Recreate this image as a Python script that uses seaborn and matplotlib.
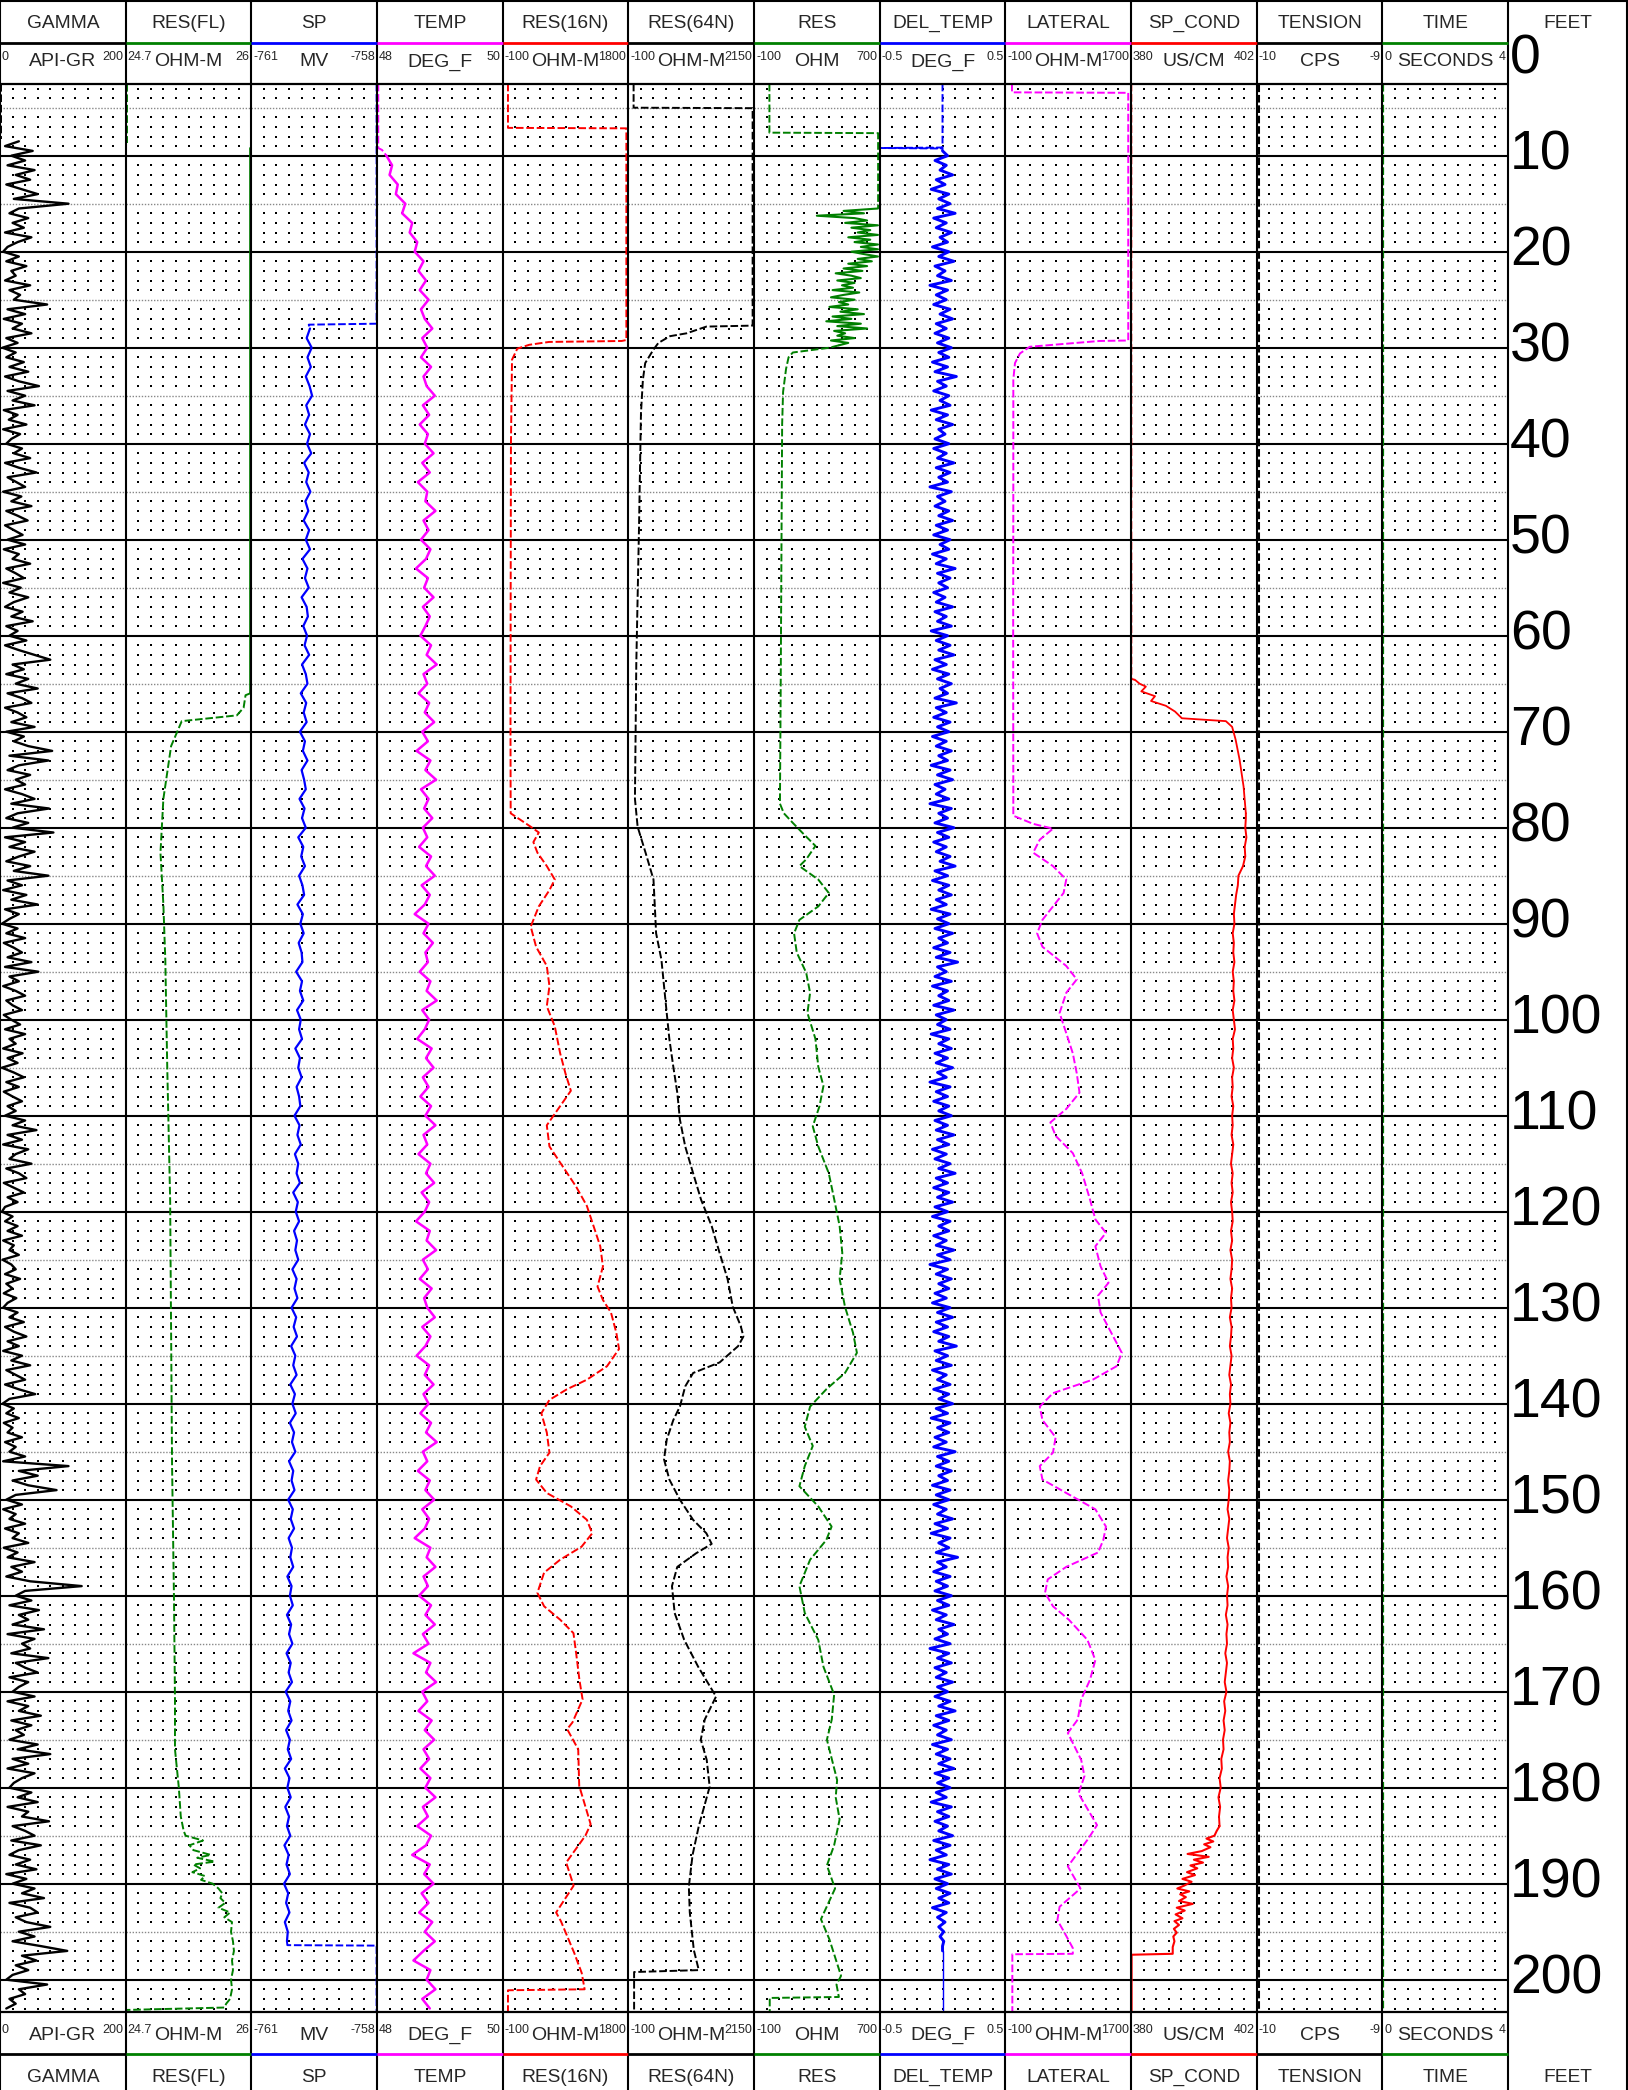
import numpy as np
import pandas as pd
import matplotlib
matplotlib.use("Agg")
import matplotlib.pyplot as plt
import seaborn as sns

# ------------------------------------------------------------------ data
track_names = ["GAMMA", "RES(FL)", "SP", "TEMP", "RES(16N)", "RES(64N)", "RES",
               "DEL_TEMP", "LATERAL", "SP_COND", "TENSION", "TIME"]
track_units = ["API-GR", "OHM-M", "MV", "DEG_F", "OHM-M", "OHM-M", "OHM",
               "DEG_F", "OHM-M", "US/CM", "CPS", "SECONDS"]
scale_min = [0, 24.7, -761, 48, -100, -100, -100, -0.5, -100, 380, -10, 0]
scale_max = [200, 26, -758, 50, 1800, 2150, 700, 0.5, 1700, 402, -9, 4]
min_labels = ["0", "24.7", "-761", "48", "-100", "-100", "-100", "-0.5", "-100", "380", "-10", "0"]
max_labels = ["200", "26", "-758", "50", "1800", "2150", "700", "0.5", "1700", "402", "-9", "4"]
track_colors = ["black", "#008000", "#0000FF", "#FF00FF", "#FF0000", "black",
                "#008000", "#0000FF", "#FF00FF", "#FF0000", "black", "#008000"]
depth_ticks = list(range(0, 201, 10))

# GAMMA
gamma_top_depth = [2.5, 8.3]
gamma_top_val = [0.8, 0.8]
gamma_depth = np.arange(8.5, 203.01, 0.5)
gamma_val = [
    30, 8, 52,
    18, 40, 12, 55, 25, 48, 10, 35, 60, 22, 109, 30, 15, 45, 20, 38, 8, 50, 28, 12,
    5, 30, 10, 42, 18, 25, 8, 48, 15, 32, 22, 75, 12, 40, 6, 35, 20, 50, 10, 28,
    4, 25, 10, 38, 15, 45, 8, 30, 62, 12, 40, 20, 55, 6, 28, 14, 42, 5, 32, 18,
    10, 35, 22, 48, 8, 30, 58, 12, 26, 40, 5, 34, 18, 50, 10, 28, 44, 8, 22, 36,
    12, 40, 6, 30, 20, 48, 10, 25, 38, 5, 33, 15, 45, 22, 8, 36, 18, 52, 10, 28,
    15, 42, 8, 30, 55, 80, 20, 38, 10, 45, 25, 60, 12, 35, 50, 8, 28, 42, 18, 55,
    10, 38, 22, 45, 83, 15, 77, 30, 12, 48, 25, 40, 8, 35, 55, 18, 78, 28, 10, 45,
    20, 85, 8, 40, 15, 55, 30, 10, 48, 22, 77, 12, 35, 5, 42, 18, 60, 8, 30, 15,
    3, 28, 10, 40, 6, 22, 35, 12, 50, 8, 61, 15, 30, 5, 25, 40, 10, 20, 35, 6,
    18, 32, 8, 40, 15, 25, 5, 36, 12, 28, 3, 22, 38, 10, 30, 6, 20, 35, 12, 25,
    8, 40, 20, 58, 12, 35, 5, 45, 25, 15, 50, 10, 30, 42, 6, 22, 38, 12, 28, 8,
    3, 20, 8, 28, 12, 35, 5, 22, 15, 30, 4, 18, 25, 8, 32, 10, 20, 6, 26, 12,
    5, 28, 15, 38, 8, 22, 42, 12, 30, 5, 35, 18, 48, 10, 25, 40, 8, 30, 56, 15,
    4, 22, 10, 30, 6, 20, 12, 35, 8, 25, 15, 40, 5, 109, 30, 60, 20, 45, 90, 25,
    10, 35, 5, 25, 15, 40, 8, 30, 20, 45, 6, 28, 12, 55, 18, 35, 10, 48, 130, 40,
    25, 50, 15, 62, 30, 45, 20, 70, 12, 55, 35, 48, 18, 77, 25, 40, 60, 15, 45, 30,
    20, 55, 12, 45, 30, 65, 18, 50, 25, 38, 15, 60, 28, 80, 20, 45, 12, 55, 35, 22,
    15, 50, 28, 60, 12, 45, 35, 78, 20, 40, 55, 18, 65, 30, 15, 48, 25, 58, 10, 42,
    20, 55, 35, 70, 15, 48, 60, 25, 42, 80, 30, 55, 20, 65, 107, 35, 58, 25, 45, 20,
    10, 75, 30, 40, 15, 25, 10,
]

# RES(FL)
resfl_top_depth = [2.5, 8.7]
resfl_top_val = [24.715, 24.715]
resfl_depth = [9.2, 66.0, 66.2, 67.5, 68.3, 68.9, 71.5, 77, 82.6, 88,
               93.75, 104.9, 118.75, 132.6, 146.5, 160.4, 170.8, 176, 180, 183,
               184.5, 185, 185.5, 186, 186.5, 187, 187.3, 187.7, 188, 188.4,
               188.8, 189.2, 189.6, 190, 190.5, 191, 191.5, 192, 192.5, 193,
               193.5, 194, 195, 196, 197, 198, 199, 200, 201, 202,
               202.5, 202.9, 203.15]
resfl_val = [25.99, 25.99, 25.94, 25.92, 25.85, 25.28, 25.17, 25.09, 25.06, 25.09,
             25.11, 25.13, 25.16, 25.17, 25.18, 25.20, 25.21, 25.21, 25.25, 25.27,
             25.30, 25.32, 25.50, 25.36, 25.40, 25.58, 25.44, 25.62, 25.40, 25.47,
             25.39, 25.52, 25.48, 25.60, 25.66, 25.70, 25.68, 25.73, 25.66, 25.78,
             25.72, 25.80, 25.79, 25.81, 25.82, 25.80, 25.81, 25.79, 25.80, 25.78,
             25.74, 25.72, 24.71]

# SP
sp_top_depth = [2.5, 27.5, 27.6, 28.0]
sp_top_val = [-758.01, -758.01, -759.63, -759.60]
sp_depth = np.arange(28, 197, 1.0)
sp_val = [
    -759.60, -759.68, -759.56, -759.66, -759.58, -759.70, -759.61, -759.55, -759.69, -759.62,
    -759.72, -759.60, -759.67, -759.57, -759.74, -759.63, -759.69, -759.59, -759.71, -759.64,
    -759.75, -759.62, -759.70, -759.60, -759.78, -759.66, -759.72, -759.63, -759.80, -759.68,
    -759.65, -759.76, -759.67, -759.73, -759.62, -759.79, -759.70, -759.66, -759.82, -759.69,
    -759.75, -759.68, -759.84, -759.72, -759.77, -759.66, -759.80, -759.74, -759.70, -759.85,
    -759.73, -759.79, -759.70, -759.88, -759.76, -759.81, -759.72, -759.86, -759.78, -759.74,
    -759.90, -759.77, -759.83, -759.75, -759.87, -759.80, -759.78, -759.93, -759.79, -759.84,
    -759.76, -759.91, -759.82, -759.86, -759.79, -759.95, -759.84, -759.88, -759.80, -759.92,
    -759.86, -759.83, -759.97, -759.85, -759.90, -759.82, -759.96, -759.88, -759.92, -759.84,
    -760.00, -759.89, -759.94, -759.86, -759.98, -759.91, -759.95, -759.88, -760.02, -759.92,
    -759.97, -759.90, -760.04, -759.93, -759.99, -759.91, -760.05, -759.95, -760.00, -759.92,
    -760.07, -759.96, -760.02, -759.94, -760.08, -759.98, -760.03, -759.95, -760.10, -760.00,
    -760.04, -759.97, -760.12, -760.01, -760.06, -759.98, -760.11, -760.03, -760.07, -760.00,
    -760.14, -760.04, -760.08, -760.01, -760.15, -760.05, -760.10, -760.02, -760.16, -760.06,
    -760.11, -760.03, -760.18, -760.07, -760.12, -760.04, -760.17, -760.08, -760.13, -760.05,
    -760.20, -760.09, -760.14, -760.06, -760.19, -760.10, -760.15, -760.07, -760.21, -760.11,
    -760.16, -760.08, -760.22, -760.12, -760.17, -760.09, -760.20, -760.13, -760.15,
]
sp_bot_depth = [196.0, 196.4, 196.45, 203.3]
sp_bot_val = [-760.15, -760.14, -758.01, -758.01]

# TEMP
temp_top_depth = [2.5, 9.2, 9.4, 10.0]
temp_top_val = [48.02, 48.02, 48.08, 48.15]
temp_depth = np.arange(10, 204, 1.0)
temp_val = [
    48.15, 48.24, 48.20, 48.33, 48.30, 48.45, 48.40, 48.56, 48.52, 48.64,
    48.60, 48.74, 48.66, 48.78, 48.68, 48.82, 48.70, 48.76, 48.88, 48.72,
    48.80, 48.70, 48.86, 48.74, 48.79, 48.92, 48.73, 48.83, 48.68, 48.81,
    48.76, 48.90, 48.72, 48.84, 48.65, 48.80, 48.77, 48.93, 48.74, 48.82,
    48.70, 48.85, 48.78, 48.62, 48.81, 48.75, 48.90, 48.73, 48.84, 48.77,
    48.69, 48.86, 48.79, 48.95, 48.74, 48.80, 48.66, 48.83, 48.76, 48.91,
    48.72, 48.81, 48.63, 48.85, 48.77, 48.94, 48.70, 48.82, 48.75, 48.88,
    48.73, 48.80, 48.67, 48.86, 48.78, 48.92, 48.71, 48.84, 48.76, 48.60,
    48.82, 48.74, 48.89, 48.77, 48.81, 48.68, 48.85, 48.79, 48.95, 48.72,
    48.83, 48.76, 48.64, 48.87, 48.78, 48.90, 48.73, 48.82, 48.69, 48.86,
    48.77, 48.93, 48.74, 48.80, 48.66, 48.85, 48.78, 48.91, 48.71, 48.83,
    48.76, 48.62, 48.84, 48.79, 48.94, 48.73, 48.81, 48.68, 48.87, 48.75,
    48.80, 48.92, 48.72, 48.85, 48.77, 48.63, 48.83, 48.76, 48.90, 48.74,
    48.82, 48.69, 48.86, 48.78, 48.95, 48.73, 48.80, 48.65, 48.84, 48.77,
    48.91, 48.72, 48.83, 48.76, 48.60, 48.85, 48.79, 48.93, 48.74, 48.81,
    48.67, 48.86, 48.77, 48.92, 48.73, 48.82, 48.58, 48.85, 48.78, 48.94,
    48.72, 48.80, 48.66, 48.87, 48.76, 48.91, 48.74, 48.83, 48.69, 48.85,
    48.77, 48.93, 48.73, 48.81, 48.64, 48.86, 48.78, 48.56, 48.84, 48.75,
    48.90, 48.71, 48.82, 48.67, 48.88, 48.76, 48.92, 48.74, 48.58, 48.85,
    48.79, 48.93, 48.72, 48.84,
]

# RES(16N)
res16_depth = [2.5, 7.1, 7.15, 29.2, 29.3, 29.4, 29.7, 30.1, 31.25, 40,
               55, 70, 78.5, 79.9, 80.5, 81.5, 82.6, 84, 85.4, 86.5,
               88.2, 90.3, 92.4, 94.4, 96.5, 98.6, 100.7, 103.5, 105.6, 107.4,
               109, 111, 113.2, 115.3, 117.4, 119.4, 121.5, 123.6, 125.7, 127.8,
               129.2, 130.5, 132.6, 134.3, 136.1, 137.5, 138.5, 139.6, 141, 143,
               145.1, 146.5, 147.9, 149.3, 150.7, 152.1, 153.5, 154.9, 156.25, 157.6,
               159.7, 161.1, 162.5, 163.9, 166, 168.75, 170.8, 173.2, 173.9, 176,
               179.8, 183.8, 185, 187.8, 190.2, 193, 193.9, 197.2, 199.3, 201,
               201.1, 203.3]
res16_val = [-20, -20, 1770, 1770, 1700, 600, 300, 121, 41, 25,
             21, 18, 21, 324, 446, 364, 425, 567, 688, 607,
             446, 324, 405, 567, 607, 567, 688, 769, 849, 931,
             769, 567, 607, 809, 1011, 1173, 1274, 1375, 1416, 1334,
             1416, 1537, 1618, 1659, 1477, 1173, 870, 607, 485, 567,
             607, 465, 405, 567, 931, 1173, 1254, 1092, 769, 526,
             425, 526, 769, 970, 1011, 1060, 1108, 955, 875, 1042,
             1057, 1230, 1150, 860, 973, 708, 780, 981, 1095, 1139,
             -20, -20]

# RES(64N)
res64_depth = [2.5, 5.0, 5.05, 27.7, 27.8, 28.5, 28.8, 29.5, 30.2, 31.6,
               33.3, 36.8, 49, 63, 77, 79.9, 82.6, 85.4, 88.2, 91,
               93.75, 96.5, 99.3, 102, 104.9, 107.6, 110.4, 113.2, 116, 118.75,
               121.5, 124.3, 127, 129.9, 131.9, 133, 134, 135.7, 136.8, 138.2,
               140.3, 141.7, 143.75, 145.8, 147.9, 150, 152.1, 153.5, 154.6, 155.6,
               157, 159, 161.8, 164.6, 167.4, 170.5, 172.9, 175, 177.1, 179.9,
               184, 187, 190.3, 193, 196.9, 199, 199.2, 203.3]
res64_val = [-6, -6, 2125, 2125, 1298, 943, 646, 438, 349, 202,
             161, 126, 90, 42, 18, 66, 208, 350, 374, 397,
             492, 539, 587, 634, 705, 776, 823, 918, 1060, 1202,
             1392, 1534, 1676, 1770, 1912, 1960, 1866, 1534, 1060, 918,
             823, 705, 587, 539, 634, 823, 1060, 1297, 1392, 1108,
             776, 681, 729, 900, 1150, 1470, 1268, 1197, 1303, 1356,
             1161, 1050, 983, 1000, 1072, 1161, 3, 3]

# RES
res_top_depth = [2.5, 7.6, 7.65, 15.4, 15.5]
res_top_val = [-2, -2, 690, 690, 689]
res_noise_depth = np.arange(15.5, 29.76, 0.25)
res_noise_val = [689, 470, 600, 300, 540,
                 620, 480, 689, 520, 640, 560, 689, 500,
                 640, 540, 689, 580, 689, 520,
                 600, 689, 560, 650, 500, 620,
                 470, 590, 420, 520, 580, 430, 540, 460,
                 530, 400, 570, 470, 390, 540, 440, 500, 380, 560, 450,
                 600, 400, 520, 360, 580, 430, 620, 410, 480,
                 430, 540, 390, 500, 440]
res_depth = [29.75, 30.0, 30.5, 31.0, 32.2, 34.6, 38, 50, 65, 77.5, 78.5,
             79.5, 80.5, 81.9, 83.3, 84, 85.4, 86.8, 88.2, 89.6, 91,
             93, 95.1, 97.2, 99.3, 102, 104.9, 106.9, 109, 111.1, 113.2,
             116, 118.75, 121.5, 124.3, 127, 129.9, 132.6, 134.7, 136.8, 138.5,
             140.3, 142.4, 144.4, 146.5, 148.6, 150.7, 152.8, 154.2, 156.25, 159,
             161.8, 164.6, 167.4, 170.3, 172.9, 175, 179.2, 181, 183.3, 186,
             188.1, 190.5, 193.7, 195.8, 199.6, 200.5, 201.8, 201.9, 203.3]
res_val = [440, 381, 147, 120, 104, 85, 79, 75, 70, 65, 90,
           147, 206, 291, 232, 189, 309, 376, 309, 189, 155,
           172, 232, 257, 240, 291, 309, 342, 317, 274, 309,
           376, 411, 445, 462, 445, 479, 530, 555, 479, 360,
           257, 223, 274, 223, 189, 309, 394, 360, 257, 189,
           223, 309, 342, 410, 395, 364, 429, 420, 445, 410,
           364, 416, 326, 380, 454, 425, 440, 0, 0]

# DEL_TEMP
dtemp_top_depth = [2.5, 9.15, 9.2, 9.25, 9.5]
dtemp_top_val = [0.0, 0.0, -0.5, 0.0, 0.0]
dtemp_depth = np.arange(9.5, 197.01, 0.5)
dtemp_val = [
    0.00,
    0.04, -0.06, 0.03, -0.02, 0.08, -0.05, 0.02, -0.09, 0.05, -0.03, 0.06, -0.04, 0.10, -0.07, 0.03, -0.05, 0.07, -0.02, 0.04, -0.08,
    0.05, -0.03, 0.09, -0.06, 0.02, -0.04, 0.07, -0.10, 0.04, -0.05, 0.03, -0.07, 0.06, -0.02, 0.08, -0.05, 0.03, -0.06, 0.05, -0.04,
    0.07, -0.03, 0.05, -0.08, 0.04, -0.06, 0.11, -0.04, 0.03, -0.07, 0.05, -0.02, 0.06, -0.09, 0.04, -0.05, 0.08, -0.03, 0.02, -0.06,
    0.05, -0.07, 0.03, -0.04, 0.09, -0.05, 0.06, -0.03, 0.04, -0.10, 0.07, -0.04, 0.02, -0.06, 0.05, -0.03, 0.08, -0.05, 0.04, -0.07,
    0.06, -0.02, 0.05, -0.08, 0.03, -0.05, 0.10, -0.04, 0.06, -0.03, 0.04, -0.07, 0.02, -0.05, 0.08, -0.06, 0.03, -0.04, 0.07, -0.09,
    0.04, -0.05, 0.06, -0.03, 0.09, -0.06, 0.03, -0.08, 0.05, -0.04, 0.07, -0.02, 0.04, -0.06, 0.11, -0.05, 0.03, -0.07, 0.06, -0.04,
    0.05, -0.08, 0.03, -0.05, 0.07, -0.03, 0.04, -0.09, 0.06, -0.04, 0.08, -0.06, 0.02, -0.05, 0.05, -0.10, 0.07, -0.03, 0.04, -0.06,
    0.09, -0.04, 0.05, -0.07, 0.03, -0.05, 0.06, -0.02, 0.10, -0.06, 0.04, -0.08, 0.05, -0.03, 0.07, -0.05, 0.03, -0.09, 0.06, -0.04,
    0.05, -0.06, 0.08, -0.03, 0.04, -0.07, 0.06, -0.05, 0.12, -0.04, 0.03, -0.06, 0.07, -0.08, 0.04, -0.03, 0.05, -0.07, 0.09, -0.05,
    0.03, -0.04, 0.06, -0.09, 0.05, -0.03, 0.07, -0.06, 0.04, -0.05, 0.08, -0.04, 0.03, -0.10, 0.06, -0.05, 0.04, -0.07, 0.05, -0.03,
    0.07, -0.06, 0.04, -0.05, 0.09, -0.04, 0.05, -0.08, 0.03, -0.06, 0.06, -0.03, 0.10, -0.05, 0.04, -0.07, 0.05, -0.04, 0.08, -0.06,
    0.04, -0.08, 0.06, -0.03, 0.05, -0.07, 0.03, -0.05, 0.09, -0.04, 0.06, -0.10, 0.04, -0.05, 0.07, -0.03, 0.05, -0.06, 0.03, -0.08,
    0.06, -0.04, 0.08, -0.05, 0.04, -0.07, 0.05, -0.03, 0.11, -0.06, 0.04, -0.05, 0.07, -0.08, 0.03, -0.04, 0.06, -0.07, 0.05, -0.03,
    0.08, -0.05, 0.04, -0.09, 0.06, -0.04, 0.05, -0.06, 0.03, -0.07, 0.10, -0.04, 0.05, -0.05, 0.07, -0.03, 0.04, -0.08, 0.06, -0.05,
    0.05, -0.07, 0.03, -0.04, 0.08, -0.06, 0.04, -0.09, 0.06, -0.03, 0.05, -0.05, 0.12, -0.04, 0.03, -0.07, 0.06, -0.05, 0.04, -0.06,
    0.07, -0.04, 0.05, -0.08, 0.03, -0.05, 0.09, -0.03, 0.04, -0.06, 0.06, -0.10, 0.05, -0.04, 0.07, -0.06, 0.03, -0.05, 0.08, -0.04,
    0.04, -0.06, 0.06, -0.03, 0.10, -0.05, 0.05, -0.07, 0.03, -0.04, 0.07, -0.08, 0.04, -0.05, 0.06, -0.03, 0.09, -0.06, 0.05, -0.04,
    0.06, -0.05, 0.03, -0.09, 0.07, -0.04, 0.05, -0.06, 0.04, -0.03, 0.08, -0.07, 0.06, -0.05, 0.03, -0.10, 0.05, -0.04, 0.07, -0.06,
    0.04, -0.05, 0.06, -0.03, 0.05, -0.08, 0.03, -0.04, 0.02, -0.03, 0.01, -0.02, 0.01, 0.00,
    0.00,
]
dtemp_tail_depth = [197.0, 203.3]
dtemp_tail_val = [0.0, 0.0]

# LATERAL
lat_depth = [2.5, 3.4, 3.45, 29.25, 29.3, 29.9, 30.6, 31.6, 33.3, 45,
             60, 78.75, 79.6, 80.1, 81.25, 82.6, 84, 85.4, 86.8, 88.2,
             89.6, 91, 92.4, 94.4, 95.8, 97.2, 99.3, 101.4, 103.5, 105.6,
             107.6, 109.3, 110.7, 112.1, 113.9, 116, 118.75, 120.8, 122.2, 123.6,
             125.7, 127.4, 128.75, 130.5, 132.6, 134.7, 136.1, 137.5, 138.9, 140.3,
             141.7, 143.5, 145.1, 146.5, 147.9, 149.3, 151, 152.8, 154.2, 155.5,
             157, 158.3, 159.7, 161.1, 162.5, 164.6, 166.7, 168.75, 170.8, 172.9,
             174.3, 177.1, 178.8, 180.6, 183.9, 185.4, 188.2, 190.5, 192.4, 193.8,
             194.8, 196.7, 197.3, 197.35, 203.3]
lat_val = [-5, -5, 1660, 1660, 1246, 251, 109, 38, 14, 14,
           12, 14, 298, 582, 393, 298, 582, 772, 734, 582,
           431, 355, 431, 772, 923, 772, 677, 772, 866, 923,
           962, 772, 545, 620, 866, 1000, 1113, 1189, 1341, 1189,
           1264, 1378, 1227, 1264, 1416, 1568, 1492, 1151, 582, 393,
           431, 620, 582, 393, 431, 772, 1189, 1341, 1303, 1227,
           772, 507, 468, 582, 809, 1075, 1189, 1113, 986, 937,
           795, 986, 1033, 947, 1213, 1079, 795, 976, 677, 645,
           724, 866, 866, 0, 0]

# SP_COND
spc_top_depth = [2.5, 64.5, 64.6]
spc_top_val = [380.05, 380.05, 380.7]
spc_ramp_depth = [64.6, 65.0, 65.3, 65.8, 66.3, 66.8, 67.3, 67.9, 68.6, 68.9,
                  69.5, 70.8, 72.9, 75.7, 78.5]
spc_ramp_val = [380.7, 381.5, 382.6, 381.8, 384.2, 383.5, 386.1, 387.7, 388.9, 396.6,
                397.7, 398.3, 399.0, 399.7, 400.1]
spc_mid_depth = np.arange(79, 185, 1.0)
spc_mid_val = [
    400.1, 400.0, 400.2, 399.9, 400.0, 399.6, 398.8, 398.7, 398.4, 398.2,
    398.0, 398.1, 397.8, 398.0, 397.9, 398.1, 397.8, 398.0, 397.9, 398.1,
    397.8, 398.0, 398.2, 397.8, 397.9, 397.7, 398.0, 397.7, 397.8, 397.6,
    397.9, 397.7, 397.8, 397.6, 397.9, 397.7, 397.5, 397.8, 397.6, 397.8,
    397.5, 397.7, 397.8, 397.5, 397.7, 397.4, 397.7, 397.6, 397.4, 397.7,
    397.5, 397.6, 397.3, 397.6, 397.5, 397.3, 397.6, 397.4, 397.2, 397.5,
    397.3, 397.4, 397.1, 397.4, 397.2, 397.3, 397.0, 397.3, 397.2, 397.0,
    397.2, 397.1, 396.9, 397.2, 397.0, 396.8, 397.1, 396.9, 397.0, 396.7,
    397.0, 396.8, 396.9, 396.6, 396.9, 396.7, 396.8, 396.5, 396.8, 396.6,
    396.4, 396.7, 396.3, 396.5, 396.2, 396.4, 396.1, 396.2, 395.8, 395.9,
    395.5, 395.7, 395.3, 395.6, 395.4, 395.5,
]
spc_bot_depth = [184.5, 185.0, 185.3, 185.6, 185.9, 186.2, 186.6, 186.9, 187.2, 187.5,
                 187.8, 188.1, 188.4, 188.8, 189.1, 189.5, 189.8, 190.2, 190.5, 190.8,
                 191.1, 191.4, 191.8, 192.1, 192.5, 192.8, 193.2, 193.6, 193.9, 194.3,
                 194.7, 195.1, 195.5, 196.0, 196.6, 197.3, 197.4, 203.3]
spc_bot_val = [395.0, 394.6, 393.2, 394.4, 392.8, 393.9, 392.4, 389.9, 393.6, 391.0,
               392.6, 390.4, 391.6, 389.8, 391.2, 389.0, 390.6, 389.3, 388.1, 390.2,
               388.6, 389.6, 388.4, 390.8, 388.0, 389.4, 387.8, 389.0, 387.6, 388.4,
               387.5, 388.0, 387.4, 387.6, 387.3, 387.3, 380.1, 380.1]

# TENSION / TIME
tension_depth = [2.5, 203.3]
tension_val = [-9.99, -9.99]
time_depth = [2.5, 203.3]
time_val = [0.015, 0.015]

# ------------------------------------------------------------------ layout
W, H, DPI = 1628, 2090, 100
TRACK_W = 125.67
N_TR = 12
Y_HDR1, Y_HDR2 = 42.7, 84.0          # header rows (px from top)
Y_FTR1, Y_FTR2 = 2012.0, 2054.3      # footer rows
D_TOP, D_BOT = (84 - 59.7) / 9.6, (2012 - 59.7) / 9.6

sns.set_theme(style="white")
plt.rcParams["font.family"] = ["Liberation Sans", "DejaVu Sans"]
plt.rcParams["lines.scale_dashes"] = False
plt.rcParams["axes.unicode_minus"] = False

fig = plt.figure(figsize=(W / DPI, H / DPI), dpi=DPI)
fig.patch.set_facecolor("white")

DASH = (0, (5.5, 2.0))


def curve(ax, depth, vals, color, dashed=False, lw=1.4):
    df = pd.DataFrame({"depth": np.asarray(depth, float),
                       "val": np.asarray(vals, float)})
    sns.lineplot(data=df, x="val", y="depth", orient="y", sort=False,
                 estimator=None, color=color,
                 linestyle=DASH if dashed else "-", linewidth=lw,
                 ax=ax, legend=False, zorder=3)


axes = []
for i in range(N_TR):
    x0 = i * TRACK_W
    ax = fig.add_axes([x0 / W, (H - Y_FTR1) / H, TRACK_W / W, (Y_FTR1 - Y_HDR2) / H])
    ax.set_facecolor("white")
    mn, mx = scale_min[i], scale_max[i]
    # grid: thick every 10 ft, dotted every 5 ft, dots every foot
    for d in range(10, 201, 10):
        ax.axhline(d, color="black", lw=1.5, zorder=1)
    for d in range(5, 201, 10):
        ax.axhline(d, color="#888888", lw=1.0, ls=(0, (1.0, 1.2)), zorder=1)
    dot_d = [d for d in range(3, 204) if d % 5 != 0]
    xs = mn + (mx - mn) * np.arange(1, 10) / 10.0
    XX, YY = np.meshgrid(xs, dot_d)
    ax.scatter(XX.ravel(), YY.ravel(), s=2.4, marker="s", color="black",
               linewidths=0, zorder=1)
    axes.append(ax)

c = track_colors
# GAMMA
curve(axes[0], gamma_top_depth, gamma_top_val, c[0], dashed=True)
curve(axes[0], gamma_depth, gamma_val, c[0], lw=1.7)
# RES(FL)
curve(axes[1], resfl_top_depth, resfl_top_val, c[1], dashed=True)
curve(axes[1], resfl_depth[:2], resfl_val[:2], c[1], lw=1.2)
curve(axes[1], resfl_depth[1:], resfl_val[1:], c[1], dashed=True)
# SP
curve(axes[2], sp_top_depth, sp_top_val, c[2], dashed=True)
curve(axes[2], sp_depth, sp_val, c[2], lw=1.6)
curve(axes[2], sp_bot_depth, sp_bot_val, c[2], dashed=True)
# TEMP
curve(axes[3], temp_top_depth, temp_top_val, c[3], dashed=True)
curve(axes[3], temp_depth, temp_val, c[3], lw=1.8)
# RES(16N)
curve(axes[4], res16_depth, res16_val, c[4], dashed=True)
# RES(64N)
curve(axes[5], res64_depth, res64_val, c[5], dashed=True)
# RES
curve(axes[6], res_top_depth, res_top_val, c[6], dashed=True)
curve(axes[6], res_noise_depth, res_noise_val, c[6], lw=1.5)
curve(axes[6], res_depth, res_val, c[6], dashed=True)
# DEL_TEMP
curve(axes[7], dtemp_top_depth, dtemp_top_val, c[7], dashed=True)
curve(axes[7], dtemp_depth, dtemp_val, c[7], lw=2.1)
curve(axes[7], dtemp_tail_depth, dtemp_tail_val, c[7], lw=1.0)
# LATERAL
curve(axes[8], lat_depth, lat_val, c[8], dashed=True)
# SP_COND
curve(axes[9], spc_top_depth, spc_top_val, c[9], dashed=True)
curve(axes[9], spc_ramp_depth, spc_ramp_val, c[9], lw=1.3)
curve(axes[9], np.r_[spc_ramp_depth[-1:], spc_mid_depth], np.r_[spc_ramp_val[-1:], spc_mid_val], c[9], lw=1.4)
curve(axes[9], np.r_[spc_mid_depth[-1:], spc_bot_depth], np.r_[spc_mid_val[-1:], spc_bot_val], c[9], lw=1.5)
# TENSION / TIME
curve(axes[10], tension_depth, tension_val, c[10], dashed=True, lw=2.2)
curve(axes[11], time_depth, time_val, c[11], dashed=True, lw=1.6)

for i, ax in enumerate(axes):
    ax.set_xlim(scale_min[i], scale_max[i])
    ax.set_ylim(D_BOT, D_TOP)
    ax.set_xticks([])
    ax.set_yticks([])
    ax.set_xlabel("")
    ax.set_ylabel("")
    for s in ax.spines.values():
        s.set_visible(False)

# depth column
axd = fig.add_axes([N_TR * TRACK_W / W, (H - Y_FTR1) / H,
                    (W - N_TR * TRACK_W) / W, (Y_FTR1 - Y_HDR2) / H])
axd.set_ylim(D_BOT, D_TOP)
axd.set_xlim(0, 1)
axd.axis("off")
for d in depth_ticks:
    axd.text(0.015, d, str(d), ha="left", va="center", fontsize=40,
             clip_on=False, color="black")

# overlay: frame, separators, header & footer
ov = fig.add_axes([0, 0, 1, 1])
ov.set_xlim(0, W)
ov.set_ylim(H, 0)
ov.axis("off")
ov.patch.set_visible(False)
ov.set_zorder(5)

XR = N_TR * TRACK_W
for i in range(N_TR + 1):
    ov.plot([i * TRACK_W, i * TRACK_W], [0, H], color="black", lw=1.5,
            solid_capstyle="butt")
ov.plot([W - 1, W - 1], [0, H], color="black", lw=1.5)
ov.plot([0, W], [1, 1], color="black", lw=1.5)
for y in (Y_HDR2, Y_FTR1):
    ov.plot([0, XR], [y, y], color="black", lw=1.6)

UNIT_FS, SMALL_FS, TITLE_FS = 14, 9, 13.8
for i in range(N_TR):
    xl, xr = i * TRACK_W, (i + 1) * TRACK_W
    cx = (xl + xr) / 2
    col = track_colors[i]
    ov.plot([xl, xr], [Y_HDR1, Y_HDR1], color=col, lw=2.0, solid_capstyle="butt")
    ov.plot([xl, xr], [Y_FTR2, Y_FTR2], color=col, lw=2.0, solid_capstyle="butt")
    # header
    ov.text(cx, 23, track_names[i], ha="center", va="center", fontsize=TITLE_FS)
    ov.text(cx, 62, track_units[i], ha="center", va="center", fontsize=UNIT_FS)
    ov.text(xl + 2, 57, min_labels[i], ha="left", va="center", fontsize=SMALL_FS)
    ov.text(xr - 2, 57, max_labels[i], ha="right", va="center", fontsize=SMALL_FS)
    # footer
    ov.text(cx, 2035, track_units[i], ha="center", va="center", fontsize=UNIT_FS)
    ov.text(xl + 2, 2030, min_labels[i], ha="left", va="center", fontsize=SMALL_FS)
    ov.text(xr - 2, 2030, max_labels[i], ha="right", va="center", fontsize=SMALL_FS)
    ov.text(cx, 2077, track_names[i], ha="center", va="center", fontsize=TITLE_FS)

ov.text((XR + W) / 2, 23, "FEET", ha="center", va="center", fontsize=TITLE_FS)
ov.text((XR + W) / 2, 2077, "FEET", ha="center", va="center", fontsize=TITLE_FS)

fig.savefig("out.png", dpi=DPI, facecolor="white")
